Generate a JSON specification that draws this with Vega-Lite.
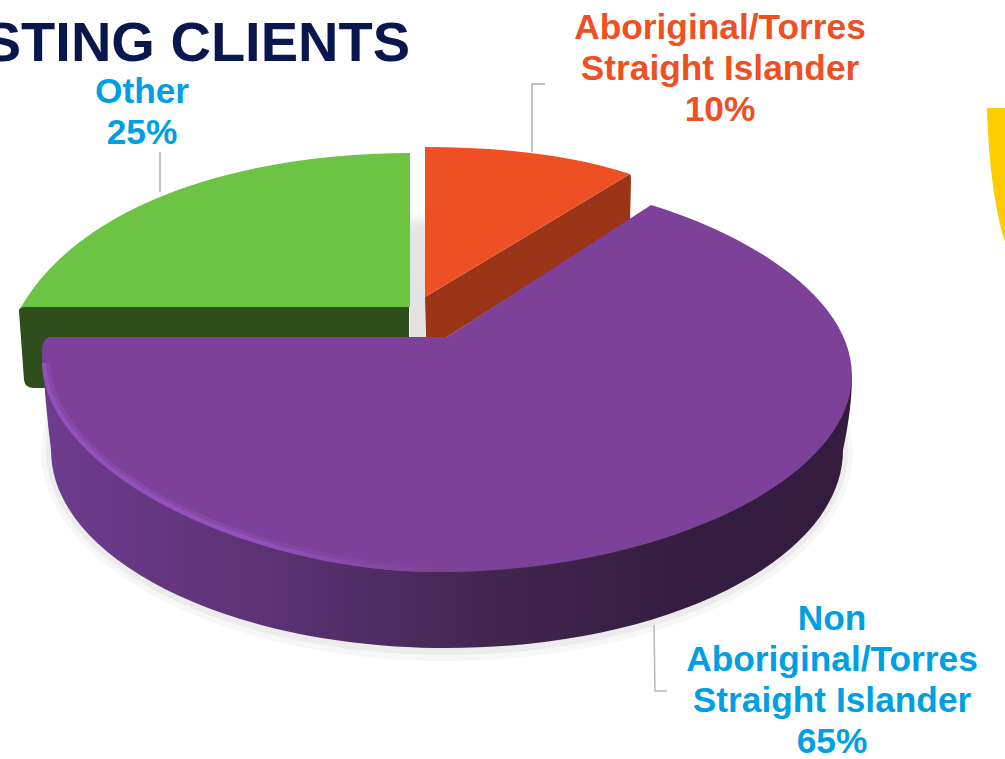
{
"$schema":"https://vega.github.io/schema/vega-lite/v6.json",
"width":1005,"height":759,"padding":0,"autosize":{"type":"none"},
"background":"white",
"view":{"stroke":null},
"title":{"text":"EXISTING CLIENTS","anchor":"end","align":"right","baseline":"alphabetic","font":"Liberation Sans","fontWeight":"bold","fontSize":56,"color":"#0A174E","frame":"group","offset":0,"dx":-595,"dy":117},
"data":{"values":[
{"slice":"Aboriginal/Torres Straight Islander","share":10,"label":"Aboriginal/Torres\nStraight Islander\n10%"},
{"slice":"Other","share":25,"label":"Other\n25%"},
{"slice":"Non Aboriginal/Torres Straight Islander","share":65,"label":"Non\nAboriginal/Torres\nStraight Islander\n65%"}
]},
"encoding":{
"x":{"field":"share","type":"quantitative","axis":null,"scale":{"type":"linear","domain":[10,25,65],"range":[425,410,447]}},
"y":{"field":"share","type":"quantitative","axis":null,"scale":{"type":"linear","domain":[10,25,65],"range":[297,307,337]}}
},
"resolve":{"scale":{"x":"independent","y":"independent"}},
"layer":[
{"transform":[{"filter":"datum.share==25"}],"mark":{"type":"point","size":4,"opacity":1,"filled":true,"strokeWidth":0,"shape":"M0,-94 L15,-94 L15,30 L0,30 Z","fill":{"gradient":"linear","x1":0,"y1":0,"x2":0,"y2":1,"stops":[{"offset":0,"color":"#ffffff"},{"offset":0.12,"color":"#e6e6e6"},{"offset":1,"color":"#e2e2e2"}]}}},
{"transform":[{"filter":"datum.share==25"}],"mark":{"type":"point","size":4,"opacity":1,"filled":true,"strokeWidth":0,"fill":"#2E4E1B","shape":"M-391,4 Q-391,0 -386,0 L-1,0 L-1,30 L-340,81 L-376,81 Q-385,81 -386,73 Z"}},
{"transform":[{"filter":"datum.share==25"}],"mark":{"type":"point","size":4,"opacity":1,"filled":true,"strokeWidth":0,"fill":"#6CC344","shape":"M0,0 L0,-154 C-140,-154 -320,-117 -389,0 Z"}},
{"transform":[{"filter":"datum.share==10"}],"mark":{"type":"point","size":4,"opacity":1,"filled":true,"strokeWidth":0,"fill":"#9C3418","shape":"M0,0 L205,-123 Q206,-122 206,-115 L205,-77 L22,40 L1,40 Z"}},
{"transform":[{"filter":"datum.share==10"}],"mark":{"type":"point","size":4,"opacity":1,"filled":true,"strokeWidth":0,"fill":"#EF5023","shape":"M0,0 L0,-150 C75,-150 145,-142 205,-123 Z"}},
{"transform":[{"filter":"datum.share==65"}],"mark":{"type":"point","size":4,"opacity":1,"filled":true,"strokeWidth":0,"fill":"#f7f7f7","shape":"M396,40 L406,113 A406,211 0 0 1 -406,113 L-396,40 Z"}},
{"transform":[{"filter":"datum.share==65"}],"mark":{"type":"point","size":4,"opacity":1,"filled":true,"strokeWidth":0,"fill":"#ececec","shape":"M396,40 L401,113 A401,205 0 0 1 -401,113 L-396,40 Z"}},
{"transform":[{"filter":"datum.share==65"}],"mark":{"type":"point","size":4,"opacity":1,"filled":true,"strokeWidth":0,"shape":"M405,38 C405,60 402,85 396,113 A396,198 0 0 1 -396,113 Q-402,65 -405,13 Z","fill":{"gradient":"linear","x1":0,"y1":0,"x2":1,"y2":0,"stops":[{"offset":0,"color":"#6E3C8E"},{"offset":0.3,"color":"#5A3273"},{"offset":0.55,"color":"#42264F"},{"offset":0.8,"color":"#341D40"},{"offset":1,"color":"#331C3E"}]}}},
{"transform":[{"filter":"datum.share==65"}],"mark":{"type":"point","size":4,"opacity":1,"filled":true,"strokeWidth":0,"fill":"#7D4199","shape":"M0,0 L204,-132 C318,-97 405,-32 405,38 C405,143 213,235 -7,235 C-197,235 -405,133 -405,15 Q-405,0 -396,0 Z"}},
{"transform":[{"filter":"datum.share==65"}],"mark":{"type":"point","size":4,"opacity":1,"filled":false,"strokeWidth":8,"shape":"M-401,26 C-397,133 -197,231 -7,231","stroke":{"gradient":"linear","x1":0,"y1":0,"x2":1,"y2":0,"stops":[{"offset":0,"color":"#8748A8"},{"offset":0.45,"color":"#8748A8"},{"offset":1,"color":"#7D4199"}]}}},
{"transform":[{"filter":"datum.share==65"}],"mark":{"type":"point","size":4,"opacity":1,"filled":false,"strokeWidth":4,"shape":"M-403,26 C-400,133 -197,233 -7,233","stroke":{"gradient":"linear","x1":0,"y1":0,"x2":1,"y2":0,"stops":[{"offset":0,"color":"#9450BC"},{"offset":0.55,"color":"#9450BC"},{"offset":1,"color":"#7D4199"}]}}},
{"transform":[{"filter":"datum.share==10"}],"mark":{"type":"point","size":4,"opacity":1,"filled":false,"strokeWidth":1.5,"stroke":"#adadad","shape":"M107,-145 L107,-213 L120,-213"}},
{"transform":[{"filter":"datum.share==25"}],"mark":{"type":"point","size":4,"opacity":1,"filled":false,"strokeWidth":1.5,"stroke":"#adadad","shape":"M-250,-115 L-250,-155"}},
{"transform":[{"filter":"datum.share==65"}],"mark":{"type":"point","size":4,"opacity":1,"filled":false,"strokeWidth":1.5,"stroke":"#b8b8b8","shape":"M207,288 L208,354 L220,354"}},
{"transform":[{"filter":"datum.share==65"}],"mark":{"type":"point","size":4,"opacity":1,"filled":true,"strokeWidth":0,"fill":"#FFCC00","shape":"M540,-229 L560,-229 L560,-90 C548,-120 541,-180 540,-229 Z"}},
{"mark":{"type":"text","font":"Liberation Sans","fontWeight":"bold","fontSize":35.3,"lineHeight":41,"lineBreak":"\n","align":"center","baseline":"alphabetic"},
"encoding":{
"x":{"field":"share","type":"quantitative","axis":null,"scale":{"type":"linear","domain":[10,25,65],"range":[720,142,832]}},
"y":{"field":"share","type":"quantitative","axis":null,"scale":{"type":"linear","domain":[10,25,65],"range":[39,103,630]}},
"text":{"field":"label"},
"color":{"field":"slice","type":"nominal","legend":null,"scale":{"domain":["Aboriginal/Torres Straight Islander","Other","Non Aboriginal/Torres Straight Islander"],"range":["#EF5023","#009FE3","#009FE3"]}}
}}
]
}
